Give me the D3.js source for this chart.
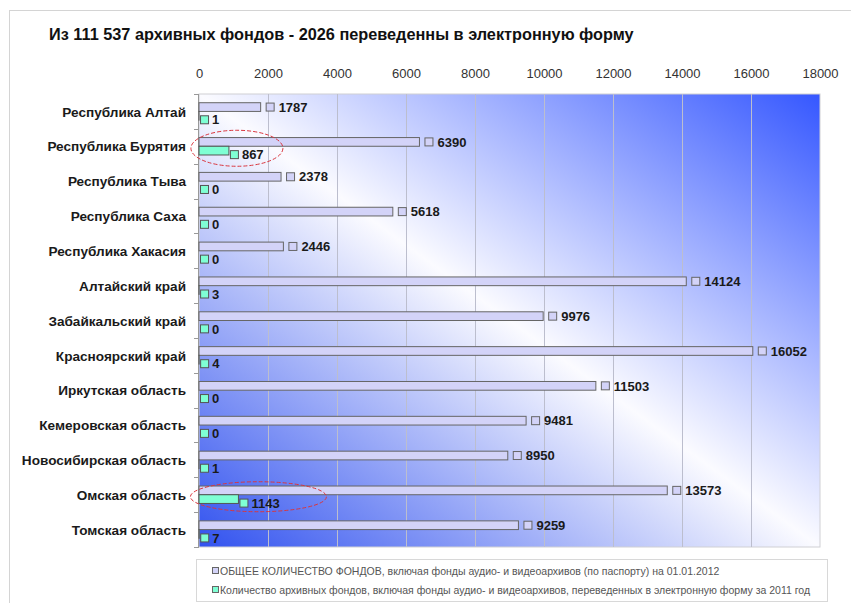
<!DOCTYPE html>
<html>
<head>
<meta charset="utf-8">
<script src="https://cdn.jsdelivr.net/npm/d3@7"></script>
<style>
  body { margin: 0; background: #fff; }
  svg { font-family: "Liberation Sans", Arial, sans-serif; }
</style>
</head>
<body>
<div id="chart"></div>
<script>
// ---- data ----
const regions = ["Республика Алтай", "Республика Бурятия", "Республика Тыва", "Республика Саха",
  "Республика Хакасия", "Алтайский край", "Забайкальский край", "Красноярский край",
  "Иркутская область", "Кемеровская область", "Новосибирская область", "Омская область", "Томская область"];
const totalFonds = [1787, 6390, 2378, 5618, 2446, 14124, 9976, 16052, 11503, 9481, 8950, 13573, 9259];
const digitFonds = [1, 867, 0, 0, 0, 3, 0, 4, 0, 0, 1, 1143, 7];
const xTicks = [0, 2000, 4000, 6000, 8000, 10000, 12000, 14000, 16000, 18000];
const seriesNames = [
  "ОБЩЕЕ КОЛИЧЕСТВО ФОНДОВ, включая фонды аудио- и видеоархивов (по паспорту) на 01.01.2012",
  "Количество архивных фондов, включая фонды аудио- и видеоархивов, переведенных в электронную форму за 2011 год"
];
const titleText = "Из 111 537 архивных фондов - 2026 переведенны в электронную форму";
const marked = ["Республика Бурятия", "Омская область"];

const W = 851, H = 603;
const plot = { left: 199, right: 820, top: 94, bottom: 547 };
const colTotal = "#d3d3f8", colDigit = "#7fffd4";

const svg = d3.select("#chart").append("svg")
  .attr("width", W).attr("height", H);

// outer frame
svg.append("rect")
  .attr("x", 9.5).attr("y", 10.5).attr("width", 900).attr("height", 700)
  .attr("fill", "#fff").attr("stroke", "#d4d4d4");

svg.append("text")
  .attr("x", 49).attr("y", 40)
  .style("font-size", "16.3px").style("font-weight", "bold").attr("fill", "#111")
  .text(titleText);

// scales
const x = d3.scaleLinear().domain([0, 18000]).range([plot.left, plot.right]);
const y = d3.scaleBand().domain(regions).range([plot.top, plot.bottom])
  .paddingInner(0.5).paddingOuter(0.25);
const sub = d3.scaleBand().domain(["total", "digit"]).range([0, y.bandwidth()]);

// background gradient
const defs = svg.append("defs");
const grad = defs.append("linearGradient").attr("id", "bg")
  .attr("x1", 0).attr("y1", 1).attr("x2", 1).attr("y2", 0);
grad.append("stop").attr("offset", "0").attr("stop-color", "#3152ef");
grad.append("stop").attr("offset", "0.5").attr("stop-color", "#fbfbff");
grad.append("stop").attr("offset", "1").attr("stop-color", "#3557ff");

svg.append("rect")
  .attr("x", plot.left).attr("y", plot.top)
  .attr("width", plot.right - plot.left).attr("height", plot.bottom - plot.top)
  .attr("fill", "url(#bg)").attr("stroke", "#d0d0d4");

// grid
svg.append("g").selectAll("line").data(xTicks.slice(1, -1)).join("line")
  .attr("x1", d => x(d) + 0.5).attr("x2", d => x(d) + 0.5)
  .attr("y1", plot.top).attr("y2", plot.bottom)
  .attr("stroke", "#bcbece").attr("stroke-width", 1);

// top axis
const xAxis = svg.append("g").attr("transform", `translate(0,81)`)
  .call(d3.axisTop(x).tickValues(xTicks).tickSize(0).tickPadding(3).tickFormat(d3.format("d")));
xAxis.select(".domain").remove();
xAxis.selectAll("text").style("font-size", "13px").attr("fill", "#333");

// left axis line + boundary ticks
svg.append("line")
  .attr("x1", plot.left - 0.5).attr("x2", plot.left - 0.5)
  .attr("y1", plot.top).attr("y2", plot.bottom).attr("stroke", "#999");
const step = y.step();
svg.append("g").selectAll("line").data(d3.range(regions.length + 1)).join("line")
  .attr("x1", plot.left - 5).attr("x2", plot.left)
  .attr("y1", i => Math.round(plot.top + i * step) + 0.5)
  .attr("y2", i => Math.round(plot.top + i * step) + 0.5)
  .attr("stroke", "#999");

// category labels
svg.append("g").selectAll("text").data(regions).join("text")
  .attr("x", 186).attr("y", d => y(d) + y.bandwidth() / 2)
  .attr("dy", "0.38em").attr("text-anchor", "end")
  .style("font-size", "13.6px").style("font-weight", "bold").attr("fill", "#1a1a1a")
  .text(d => d);

// bars
const rows = regions.map((r, i) => ({ region: r, total: totalFonds[i], digit: digitFonds[i] }));

const g = svg.append("g");
g.selectAll("rect.total").data(rows).join("rect").attr("class", "total")
  .attr("x", plot.left).attr("y", d => y(d.region) + sub("total"))
  .attr("width", d => x(d.total) - plot.left).attr("height", sub.bandwidth())
  .attr("fill", colTotal).attr("stroke", "#666").attr("stroke-width", 1);
g.selectAll("rect.digit").data(rows.filter(d => d.digit > 0)).join("rect").attr("class", "digit")
  .attr("x", plot.left).attr("y", d => y(d.region) + sub("digit"))
  .attr("width", d => x(d.digit) - plot.left).attr("height", sub.bandwidth())
  .attr("fill", colDigit).attr("stroke", "#555").attr("stroke-width", 1);

// value labels
const lab = svg.append("g");
rows.forEach(d => {
  const cyT = y(d.region) + sub("total") + sub.bandwidth() / 2;
  const cyD = y(d.region) + sub("digit") + sub.bandwidth() / 2 + 4;
  lab.append("rect").attr("x", x(d.total) + 5.5).attr("y", cyT - 4).attr("width", 8).attr("height", 8)
    .attr("fill", colTotal).attr("stroke", "#666");
  lab.append("text").attr("x", x(d.total) + 18).attr("y", cyT).attr("dy", "0.36em")
    .style("font-size", "13px").style("font-weight", "bold").attr("fill", "#1a1a1a").text(d.total);
  lab.append("rect").attr("x", x(d.digit) + 1.5).attr("y", cyD - 4).attr("width", 8).attr("height", 8)
    .attr("fill", colDigit).attr("stroke", "#555");
  lab.append("text").attr("x", x(d.digit) + 13).attr("y", cyD).attr("dy", "0.36em")
    .style("font-size", "13px").style("font-weight", "bold").attr("fill", "#1a1a1a").text(d.digit);
});

// red dashed ellipses around the highlighted regions
rows.filter(d => marked.includes(d.region)).forEach(d => {
  const big = d.digit > 1000;
  svg.append("ellipse")
    .attr("cx", x(d.digit) + (big ? 20 : 8))
    .attr("cy", y(d.region) + y.bandwidth() / 2 + 2)
    .attr("rx", big ? 68 : 46).attr("ry", big ? 15 : 18)
    .attr("fill", "none").attr("stroke", "#d9363e").attr("stroke-width", 1)
    .attr("stroke-dasharray", "4,2");
});

// legend
const leg = svg.append("g");
leg.append("rect").attr("x", 196.5).attr("y", 559.5).attr("width", 631).attr("height", 42)
  .attr("fill", "#fff").attr("stroke", "#d8d8d8");
[colTotal, colDigit].forEach((c, i) => {
  const ly = 571 + i * 19;
  leg.append("rect").attr("x", 212.5).attr("y", ly - 3.5).attr("width", 6).attr("height", 6)
    .attr("fill", c).attr("stroke", "#666");
  leg.append("text").attr("x", 220).attr("y", ly).attr("dy", "0.35em")
    .style("font-size", "10.5px").attr("fill", "#555").text(seriesNames[i]);
});
</script>
</body>
</html>
